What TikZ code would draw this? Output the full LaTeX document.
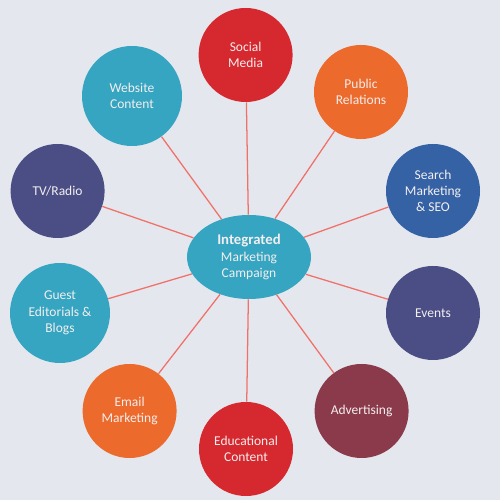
\documentclass[tikz,border=0pt]{standalone}
\usepackage{fontspec}
\setmainfont{Carlito}
\definecolor{MktTeal}{HTML}{35A5C2}
\definecolor{MktRed}{HTML}{D6282F}
\definecolor{MktOrange}{HTML}{EC6A2B}
\definecolor{MktBlue}{HTML}{3462A5}
\definecolor{MktSlate}{HTML}{4B4E85}
\definecolor{MktWine}{HTML}{8A3A4B}
\definecolor{MktLink}{HTML}{F2706A}
\definecolor{MktPaper}{HTML}{E4E7ED}
\definecolor{MktText}{HTML}{F4EEEE}
\usetikzlibrary{shapes.geometric}

\begin{document}
\begin{tikzpicture}[
      topic/.style={circle,draw=none,minimum size=2.35cm,inner sep=0pt,
                    align=center,text=MktText,font=\fontsize{9.6}{11.6}\selectfont},
      bigtopic/.style={topic,minimum size=2.5cm},
      hub/.style={ellipse,fill=MktTeal,minimum width=3.1cm,minimum height=2.1cm,
                  inner sep=0pt,align=center,text=MktText,
                  font=\fontsize{9.6}{11.4}\selectfont},
      link/.style={draw=MktLink,line width=0.9pt}]
    \fill[MktPaper] (0,0) rectangle (12.5,12.5);
    \useasboundingbox (0,0) rectangle (12.5,12.5);
    \node[hub] (hub) at (6.225,6.075) {\textbf{\fontsize{10.5}{11.4}\selectfont Integrated}\\Marketing\\Campaign};
    \node[topic,fill=MktRed] (social) at (6.14,11.125) {Social\\Media};
    \node[topic,fill=MktOrange] (public) at (9.025,10.2) {Public\\Relations};
    \node[topic,fill=MktBlue] (search) at (10.825,7.725) {Search\\Marketing\\\& SEO};
    \node[topic,fill=MktSlate] (events) at (10.825,4.675) {Events};
    \node[topic,fill=MktWine] (advert) at (9.04,2.225) {Advertising};
    \node[topic,fill=MktRed] (educ) at (6.15,1.275) {Educational\\Content};
    \node[topic,fill=MktOrange] (email) at (3.24,2.225) {Email\\Marketing};
    \node[bigtopic,fill=MktTeal] (guest) at (1.5,4.675) {Guest\\Editorials \&\\Blogs};
    \node[topic,fill=MktSlate] (tvradio) at (1.44,7.725) {TV/Radio};
    \node[bigtopic,fill=MktTeal] (website) at (3.3,10.1) {Website\\Content};
    \foreach \t in {social,public,search,events,advert,educ,email,guest,tvradio,website}
      \draw[link] (hub) -- (\t);
  \end{tikzpicture}
\end{document}
